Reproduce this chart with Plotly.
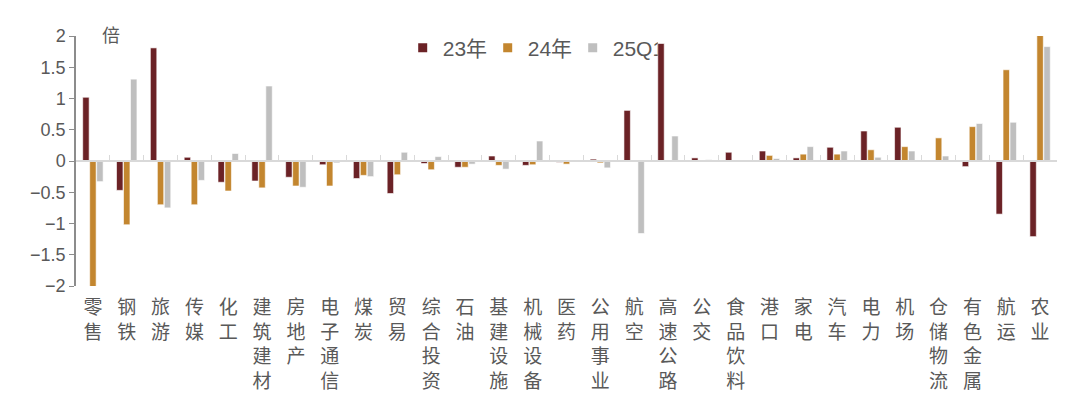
import plotly.graph_objects as go

categories = ["零售", "钢铁", "旅游", "传媒", "化工", "建筑建材", "房地产", "电子通信",
              "煤炭", "贸易", "综合投资", "石油", "基建设施", "机械设备", "医药",
              "公用事业", "航空", "高速公路", "公交", "食品饮料", "港口", "家电",
              "汽车", "电力", "机场", "仓储物流", "有色金属", "航运", "农业"]

y23 = [1.02, -0.47, 1.81, 0.06, -0.34, -0.32, -0.26, -0.06, -0.28, -0.52,
       -0.04, -0.10, 0.08, -0.07, -0.02, 0.03, 0.81, 1.88, 0.05, 0.14,
       0.16, 0.05, 0.22, 0.48, 0.54, 0.0, -0.09, -0.85, -1.21]
y24 = [-2.05, -1.02, -0.70, -0.70, -0.48, -0.43, -0.40, -0.40, -0.23, -0.22,
       -0.14, -0.10, -0.07, -0.06, -0.05, -0.03, 0.0, 0.0, 0.01, 0.01,
       0.09, 0.11, 0.11, 0.18, 0.23, 0.37, 0.55, 1.46, 2.02]
y25 = [-0.33, 1.31, -0.75, -0.31, 0.12, 1.20, -0.42, -0.03, -0.25, 0.14,
       0.07, -0.05, -0.13, 0.32, 0.0, -0.11, -1.16, 0.40, 0.02, 0.01,
       0.04, 0.23, 0.16, 0.06, 0.16, 0.08, 0.60, 0.62, 1.83]

series = [("23年", y23, "#6B2226"), ("24年", y24, "#C3862F"), ("25Q1", y25, "#BFBFBF")]
tick_labels = ["<br>".join(c) for c in categories]
y_ticks = [-2, -1.5, -1, -0.5, 0, 0.5, 1, 1.5, 2]
y_tick_text = ["−2", "−1.5", "−1", "−0.5", "0", "0.5", "1", "1.5", "2"]

font_family = "Liberation Sans, Noto Sans CJK SC, sans-serif"
text_color = "#595959"
x_range = [-0.5, len(categories) - 0.5]

fig = go.Figure()
for name, vals, color in series:
    fig.add_trace(go.Bar(
        x=categories, y=vals, name=name, legendgroup=name, showlegend=False,
        marker=dict(color=color, line=dict(color="white", width=0.6)),
    ))
# square legend keys
for name, vals, color in series:
    fig.add_trace(go.Scatter(
        x=[None], y=[None], name=name, legendgroup=name, mode="markers",
        marker=dict(symbol="square", size=9, color=color),
    ))

# invisible trace so the zero-line axis has the same categories
fig.add_trace(go.Scatter(
    x=categories, y=[0] * len(categories), xaxis="x2", mode="markers",
    marker=dict(opacity=0), showlegend=False, hoverinfo="skip",
))

# page body has an 8px margin, so the figure is 8px smaller and shifted
fig.update_layout(
    width=1072, height=400,
    margin=dict(l=68, r=23, t=28, b=122),
    paper_bgcolor="white", plot_bgcolor="white",
    font=dict(family=font_family, color=text_color),
    barmode="group", bargap=0.38, bargroupgap=0.08,
    legend=dict(
        orientation="h", x=0.463, y=0.952, xanchor="center", yanchor="middle",
        font=dict(size=21, color=text_color), itemwidth=30,
        entrywidth=40, entrywidthmode="pixels",
        bgcolor="rgba(0,0,0,0)",
    ),
    xaxis=dict(
        type="category", categoryarray=categories, range=x_range,
        tickvals=categories, ticktext=tick_labels,
        showline=False, ticks="", showgrid=False, automargin=False,
        tickfont=dict(size=19, color=text_color),
        ticklabelstandoff=8,
    ),
    xaxis2=dict(
        type="category", categoryarray=categories, overlaying="x",
        matches="x", anchor="free", position=0.5, side="bottom",
        showline=True, linecolor="#D9D9D9", linewidth=1.5,
        ticks="inside", ticklen=5, tickcolor="#D9D9D9", tickwidth=1,
        tickson="boundaries", showticklabels=False, showgrid=False,
    ),
    yaxis=dict(
        range=[-2, 2], tickvals=y_ticks, ticktext=y_tick_text,
        showgrid=False, zeroline=False, automargin=False,
        showline=True, linecolor="#8C8C8C", linewidth=1.5,
        ticks="outside", ticklen=5, tickcolor="#8C8C8C",
        tickfont=dict(size=18, color=text_color),
    ),
    annotations=[dict(
        text="倍", xref="paper", yref="paper", x=0.024, y=1.0,
        xanchor="left", yanchor="middle", showarrow=False,
        font=dict(size=18, color=text_color),
    )],
)

fig.write_html("out.html")
